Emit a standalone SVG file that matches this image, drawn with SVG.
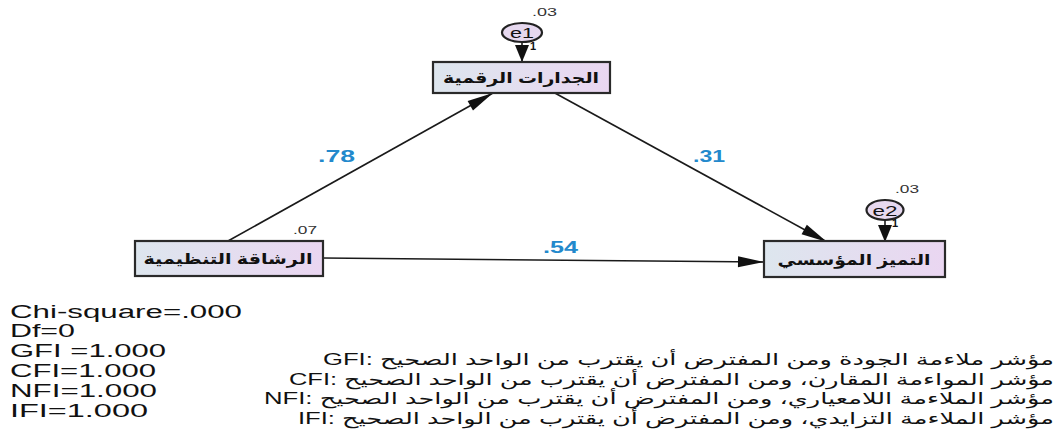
<svg xmlns="http://www.w3.org/2000/svg" width="1059" height="433" viewBox="0 0 1059 433">
<defs>
<linearGradient id="boxg" x1="0" y1="0" x2="1" y2="0">
<stop offset="0" stop-color="#dde6ee"/>
<stop offset="1" stop-color="#ead6f1"/>
</linearGradient>
<marker id="arr" viewBox="-28 -8 30 16" refX="0" refY="0" markerWidth="30" markerHeight="16" markerUnits="userSpaceOnUse" orient="auto">
<path d="M0,0 L-26,-5.5 L-26,5.5 Z" fill="#111"/>
</marker>
<marker id="arrs" viewBox="-19 -8 20 16" refX="0" refY="0" markerWidth="20" markerHeight="16" markerUnits="userSpaceOnUse" orient="auto">
<path d="M0,0 L-17,-7 L-17,7 Z" fill="#111"/>
</marker>
<style>
.box{fill:url(#boxg);stroke:#2a2a2a;stroke-width:2.2}
.err{fill:#e6d8ef;stroke:#222;stroke-width:2.2}
.lbl{font-family:"Liberation Sans","DejaVu Sans",sans-serif;font-weight:bold;font-size:15px;fill:#111;text-anchor:middle}
.elbl{font-family:"Liberation Sans","DejaVu Sans",sans-serif;font-size:15px;fill:#111;text-anchor:middle}
.coef{font-family:"Liberation Sans",sans-serif;font-weight:bold;font-size:16px;fill:#2389cc}
.sm{font-family:"Liberation Sans",sans-serif;font-size:11px;fill:#333}
.one{font-family:"Liberation Sans",sans-serif;font-size:11px;font-weight:bold;fill:#111}
.fit{font-family:"Liberation Sans",sans-serif;font-size:18px;fill:#111}
.ar{font-family:"Liberation Sans","DejaVu Sans",sans-serif;font-size:16px;fill:#111;direction:rtl}
.con{stroke:#1a1a1a;stroke-width:1.6;fill:none}
</style>
</defs>
<rect width="1059" height="433" fill="#fff"/>
<g id="connectors">
<line class="con" x1="228" y1="241" x2="493" y2="93" marker-end="url(#arr)"/>
<line class="con" x1="553" y1="92" x2="827" y2="242" marker-end="url(#arr)"/>
<line class="con" x1="323" y1="258" x2="764" y2="262" marker-end="url(#arr)"/>
<line class="con" x1="522" y1="42" x2="522" y2="62" marker-end="url(#arrs)"/>
<line class="con" x1="885" y1="220" x2="885" y2="242" marker-end="url(#arrs)"/>
</g>
<g id="e1">
<ellipse class="err" cx="522" cy="32.5" rx="20" ry="9.5"/>
<text class="elbl" x="522" y="38" textLength="24" lengthAdjust="spacingAndGlyphs">e1</text>
<text class="sm" x="532" y="16" textLength="25" lengthAdjust="spacingAndGlyphs">.03</text>
<text class="one" x="530" y="50">1</text>
</g>
<g id="e2">
<ellipse class="err" cx="885" cy="210" rx="18.5" ry="10"/>
<text class="elbl" x="885" y="215.5" textLength="25" lengthAdjust="spacingAndGlyphs">e2</text>
<text class="sm" x="895" y="193" textLength="24" lengthAdjust="spacingAndGlyphs">.03</text>
<text class="one" x="892" y="227">1</text>
</g>
<g id="digital">
<rect class="box" x="433" y="62" width="177" height="31"/>
<text class="lbl" x="521" y="83" textLength="156" lengthAdjust="spacingAndGlyphs">الجدارات الرقمية</text>
</g>
<g id="agility">
<rect class="box" x="135" y="241" width="188" height="35"/>
<text class="lbl" x="228" y="264" textLength="169" lengthAdjust="spacingAndGlyphs">الرشاقة التنظيمية</text>
<text class="sm" x="293" y="234" textLength="24" lengthAdjust="spacingAndGlyphs">.07</text>
</g>
<g id="excellence">
<rect class="box" x="764" y="241" width="181" height="36"/>
<text class="lbl" x="854" y="265" textLength="153" lengthAdjust="spacingAndGlyphs">التميز المؤسسي</text>
</g>
<g id="coefs">
<text class="coef" x="318" y="162" textLength="37" lengthAdjust="spacingAndGlyphs">.78</text>
<text class="coef" x="693" y="162" textLength="32" lengthAdjust="spacingAndGlyphs">.31</text>
<text class="coef" x="543" y="253" textLength="35" lengthAdjust="spacingAndGlyphs">.54</text>
</g>
<g id="fit">
<text class="fit" x="10" y="318" textLength="232" lengthAdjust="spacingAndGlyphs">Chi-square=.000</text>
<text class="fit" x="10" y="337" textLength="65" lengthAdjust="spacingAndGlyphs">Df=0</text>
<text class="fit" x="10" y="357" textLength="156" lengthAdjust="spacingAndGlyphs">GFI =1.000</text>
<text class="fit" x="10" y="377" textLength="146" lengthAdjust="spacingAndGlyphs">CFI=1.000</text>
<text class="fit" x="10" y="397" textLength="147" lengthAdjust="spacingAndGlyphs">NFI=1.000</text>
<text class="fit" x="10" y="417" textLength="138" lengthAdjust="spacingAndGlyphs">IFI=1.000</text>
</g>
<g id="notes">
<text class="ar" x="1054" y="365" textLength="731" lengthAdjust="spacingAndGlyphs">مؤشر ملاءمة الجودة ومن المفترض أن يقترب من الواحد الصحيح :GFI</text>
<text class="ar" x="1054" y="385" textLength="765" lengthAdjust="spacingAndGlyphs">مؤشر المواءمة المقارن، ومن المفترض أن يقترب من الواحد الصحيح :CFI</text>
<text class="ar" x="1054" y="404" textLength="790" lengthAdjust="spacingAndGlyphs">مؤشر الملاءمة اللامعياري، ومن المفترض أن يقترب من الواحد الصحيح :NFI</text>
<text class="ar" x="1054" y="424" textLength="756" lengthAdjust="spacingAndGlyphs">مؤشر الملاءمة التزايدي، ومن المفترض أن يقترب من الواحد الصحيح :IFI</text>
</g>
</svg>
